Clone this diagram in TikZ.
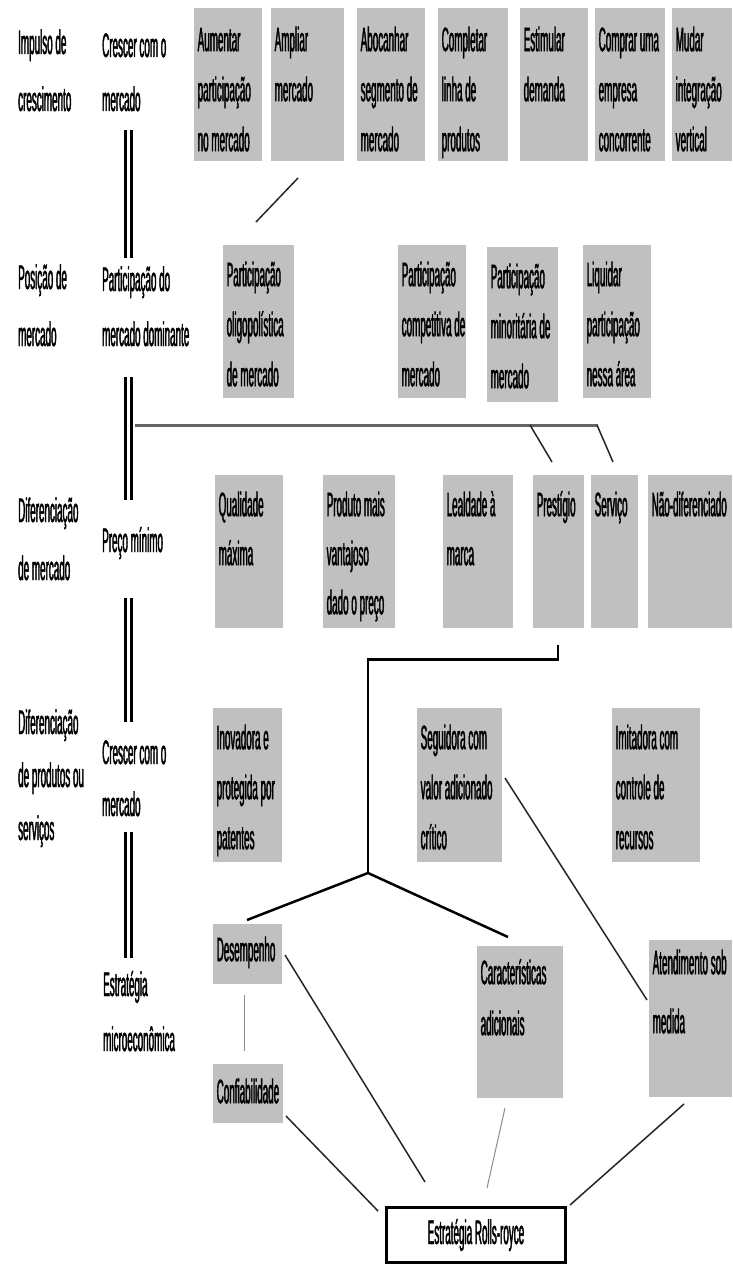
\documentclass[tikz,border=0pt]{standalone}
\usepackage{fontspec}
\setmainfont{Liberation Sans}[FakeStretch=0.29, FakeBold=1.2]
\definecolor{boxgray}{RGB}{192,192,192}
\definecolor{lngray}{RGB}{100,100,100}
\newcommand\fsz{\fontsize{34}{50}\selectfont}
% box text: width, height, first-baseline offset, line skip, lines
\newcommand\bt[5]{\vtop to #2pt{\hsize=#1pt\baselineskip=#4pt\lineskiplimit=-200pt\let\\\cr
  \halign to #1pt{\hskip3.5pt##\hfil\tabskip=0pt plus 1fil\cr\vrule width0pt height#3pt #5\cr}\vss}}
% label text: line skip, lines
\newcommand\lt[2]{\vtop{\baselineskip=#1pt\lineskiplimit=-200pt\let\\\cr
  \halign{##\hfil\cr#2\cr}}}
\begin{document}
\begin{tikzpicture}[x=1pt,y=-1pt,
  gbox/.style={fill=boxgray, inner sep=0pt, anchor=north west, font=\fsz},
  lbl/.style={inner sep=0pt, anchor=base west, font=\fsz},
  dbl/.style={line width=2.8pt, double distance=2.5pt, draw=black, double=white},
  gln/.style={line width=3pt, draw=lngray},
  blk/.style={line width=2.5pt, draw=black, line join=miter},
  thn/.style={line width=1.5pt, draw=black!85},
  pale/.style={line width=1pt, draw=black!45}]
\useasboundingbox (0,0) rectangle (732,1265);
\fill[white] (0,0) rectangle (732,1265);

% ---- left labels
\node[lbl] (L1) at (18,54)  {\lt{57}{Impulso de\\crescimento}};
\node[lbl] (L2) at (18,289) {\lt{57}{Posição de\\mercado}};
\node[lbl] (L3) at (18,522) {\lt{58}{Diferenciação\\de mercado}};
\node[lbl] (L4) at (18,734) {\lt{53}{Diferenciação\\de produtos ou\\serviços}};
\node[lbl] (M1) at (102,57)  {\lt{54}{Crescer com o\\mercado}};
\node[lbl] (M2) at (102,291) {\lt{55}{Participação do\\mercado dominante}};
\node[lbl] (M3) at (102,552) {\lt{55}{Preço mínimo}};
\node[lbl] (M4) at (102,764) {\lt{52}{Crescer com o\\mercado}};
\node[lbl] (M5) at (103,996) {\lt{55}{Estratégia\\microeconômica}};

% ---- row 1
\node[gbox] (b1) at (194,8) {\bt{68}{153}{43}{50}{Aumentar\\participação\\no mercado}};
\node[gbox] (b2) at (271,8) {\bt{73}{153}{43}{50}{Ampliar\\mercado}};
\node[gbox] (b3) at (357,8) {\bt{68}{153}{43}{50}{Abocanhar\\segmento de\\mercado}};
\node[gbox] (b4) at (438,8) {\bt{70}{153}{43}{50}{Completar\\linha de\\produtos}};
\node[gbox] (b5) at (520,8) {\bt{68}{153}{43}{50}{Estimular\\demanda}};
\node[gbox] (b6) at (595,8) {\bt{70}{153}{43}{50}{Comprar uma\\empresa\\concorrente}};
\node[gbox] (b7) at (672,8) {\bt{60}{153}{43}{50}{Mudar\\integração\\vertical}};

% ---- row 2
\node[gbox] (c1) at (223,245) {\bt{71}{153}{41}{50}{Participação\\oligopolística\\de mercado}};
\node[gbox] (c2) at (398,245) {\bt{68}{153}{41}{50}{Participação\\competitiva de\\mercado}};
\node[gbox] (c3) at (487,247) {\bt{71}{155}{41}{50}{Participação\\minoritária de\\mercado}};
\node[gbox] (c4) at (583,245) {\bt{68}{153}{41}{50}{Liquidar\\participação\\nessa área}};

% ---- row 3
\node[gbox] (d1) at (215,475) {\bt{68}{153}{41}{49}{Qualidade\\máxima}};
\node[gbox] (d2) at (323,475) {\bt{72}{153}{41}{49}{Produto mais\\vantajoso\\dado o preço}};
\node[gbox] (d3) at (443,475) {\bt{70}{153}{41}{49}{Lealdade à\\marca}};
\node[gbox] (d4) at (533,475) {\bt{51}{153}{41}{49}{Prestígio}};
\node[gbox] (d5) at (591,475) {\bt{47}{153}{41}{49}{Serviço}};
\node[gbox] (d6) at (648,475) {\bt{84}{153}{41}{49}{Não-diferenciado}};

% ---- row 4
\node[gbox] (e1) at (213,708) {\bt{69}{154}{41}{50}{Inovadora e\\protegida por\\patentes}};
\node[gbox] (e2) at (417,708) {\bt{85}{154}{41}{50}{Seguidora com\\valor adicionado\\crítico}};
\node[gbox] (e3) at (612,708) {\bt{88}{154}{41}{50}{Imitadora com\\controle de\\recursos}};

% ---- row 5
\node[gbox] (f1) at (213,924)  {\bt{69}{60}{37}{50}{Desempenho}};
\node[gbox] (f2) at (213,1064) {\bt{70}{59}{39}{50}{Confiabilidade}};
\node[gbox] (f3) at (477,946)  {\bt{86}{152}{38}{51}{Características\\adicionais}};
\node[gbox] (f4) at (649,940)  {\bt{83}{157}{34}{59}{Atendimento sob\\medida}};

\node[draw=black, line width=3pt, minimum width=179pt, minimum height=55pt, inner sep=0pt, font=\fsz]
  (rr) at (476,1235) {Estratégia Rolls-royce};

% ---- connector end points
\coordinate (v1a) at (128.5,130); \coordinate (v1b) at (128.5,258);
\coordinate (v2a) at (128.5,377); \coordinate (v2b) at (128.5,500);
\coordinate (v3a) at (128.5,598); \coordinate (v3b) at (128.5,722);
\coordinate (v4a) at (128.5,832); \coordinate (v4b) at (128.5,958);

\coordinate (h1) at (135,425); \coordinate (h2) at (598,425);
\coordinate (hp) at (530,425); \coordinate (pt) at (552,462);
\coordinate (hs) at (597,425); \coordinate (st) at (613,462);

\coordinate (am1) at (298,178); \coordinate (am2) at (256,222);

\coordinate (pb) at (558,645); \coordinate (pc) at (558,659.5);
\coordinate (jc) at (368,659.5); \coordinate (jn) at (368,873);
\coordinate (dt) at (247,920); \coordinate (ct) at (508,937);

\coordinate (dc1) at (244,995); \coordinate (dc2) at (244,1051);
\coordinate (sg1) at (505,778); \coordinate (sg2) at (647,1000);
\coordinate (dr1) at (285,955); \coordinate (dr2) at (425,1182);
\coordinate (cr1) at (286,1116); \coordinate (cr2) at (378,1211);
\coordinate (kr1) at (505,1108); \coordinate (kr2) at (487,1188);
\coordinate (ar1) at (684,1104); \coordinate (ar2) at (570,1205);

% ---- connectors
\draw[dbl] (v1a) -- (v1b);
\draw[dbl] (v2a) -- (v2b);
\draw[dbl] (v3a) -- (v3b);
\draw[dbl] (v4a) -- (v4b);

\draw[gln] (h1) -- (h2);
\draw[thn] (hp) -- (pt);
\draw[thn] (hs) -- (st);
\draw[thn] (am1) -- (am2);

\draw[blk] (pb) -- (pc) -- (jc) -- (jn);
\draw[blk] (dt) -- (jn) -- (ct);

\draw[pale] (dc1) -- (dc2);
\draw[thn] (sg1) -- (sg2);
\draw[thn] (dr1) -- (dr2);
\draw[thn] (cr1) -- (cr2);
\draw[pale] (kr1) -- (kr2);
\draw[thn] (ar1) -- (ar2);
\end{tikzpicture}
\end{document}
